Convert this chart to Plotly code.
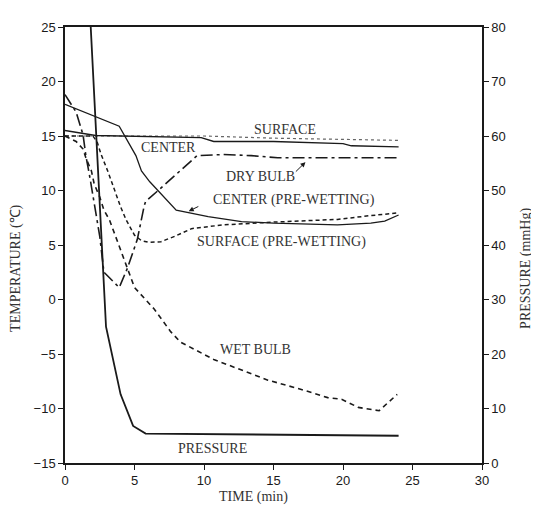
import plotly.graph_objects as go

# ---- data (time in min, temperature in degC, pressure in mmHg) ----
press_t = [1.85, 2.95, 4.0, 4.9, 5.8, 24.0]
press_p = [80.0, 25.0, 12.6, 6.8, 5.4, 5.0]

center_t = [0, 2.2, 9.8, 10.7, 15, 20, 20.6, 24]
center_v = [15.5, 15.05, 14.85, 14.5, 14.5, 14.3, 14.1, 14.0]

surface_t = [0, 10, 15, 20, 24]
surface_v = [15.0, 15.0, 14.8, 14.7, 14.6]

dry_t = [0, 0.8, 1.3, 1.5, 1.75, 2.0, 2.5, 2.8, 3.9, 4.5, 5.2, 5.7, 5.8, 6.7, 7.9, 9.5, 11.4, 13.4, 15.3, 24]
dry_v = [18.8, 17.2, 15.1, 13.2, 11.5, 9.7, 5.8, 2.5, 1.1, 2.9, 5.5, 8.6, 9.0, 10.0, 11.4, 13.2, 13.3, 13.2, 13.0, 13.0]

cpw_t = [0, 2.0, 3.9, 5.1, 5.5, 6.1, 6.7, 8.0, 10.3, 12.7, 15.0, 19.6, 22, 23, 24]
cpw_v = [17.9, 16.9, 15.9, 13.2, 11.8, 10.8, 10.0, 8.2, 7.6, 7.15, 7.0, 6.85, 7.0, 7.2, 7.75]

spw_t = [0, 2.0, 2.3, 2.6, 3.1, 3.5, 4.0, 4.4, 5.0, 5.5, 6.0, 6.9, 7.9, 9.1, 11.4, 15, 17.2, 19.6, 22, 24]
spw_v = [15.0, 15.0, 14.5, 13.3, 11.7, 10.2, 8.5, 7.3, 5.9, 5.4, 5.25, 5.3, 5.8, 6.5, 6.85, 7.1, 7.25, 7.35, 7.7, 7.95]

wet_t = [0, 0.8, 1.3, 1.5, 1.9, 2.1, 2.5, 2.8, 3.2, 4.5, 5.0, 6.4, 7.6, 8.3, 10.7, 14.6, 17, 18.9, 19.9, 21.1, 22.6, 23.9]
wet_v = [15.0, 14.5, 13.8, 13.0, 11.8, 10.6, 9.4, 8.2, 7.3, 2.7, 1.1, -0.85, -2.95, -3.9, -5.5, -7.4, -8.25, -9.0, -9.15, -9.9, -10.2, -8.7]

x_ticks = [0, 5, 10, 15, 20, 25, 30]
y_ticks = [-15, -10, -5, 0, 5, 10, 15, 20, 25]
y2_ticks = [0, 10, 20, 30, 40, 50, 60, 70, 80]

labels = ["SURFACE", "CENTER", "DRY BULB", "CENTER (PRE-WETTING)",
          "SURFACE (PRE-WETTING)", "WET BULB", "PRESSURE"]
label_x = [15.8, 7.45, 14.1, 16.5, 15.6, 13.7, 10.6]
label_y = [15.6, 13.9, 11.25, 9.1, 5.3, -4.6, -13.7]

INK = "#1a1a1a"
fig = go.Figure()

fig.add_trace(go.Scatter(x=surface_t, y=surface_v, mode="lines",
                         line=dict(color="#666", width=1.2, dash="dot")))
fig.add_trace(go.Scatter(x=center_t, y=center_v, mode="lines",
                         line=dict(color=INK, width=1.4)))
fig.add_trace(go.Scatter(x=dry_t, y=dry_v, mode="lines",
                         line=dict(color=INK, width=1.6, dash="12px,4px,3px,4px")))
fig.add_trace(go.Scatter(x=cpw_t, y=cpw_v, mode="lines",
                         line=dict(color=INK, width=1.3)))
fig.add_trace(go.Scatter(x=spw_t, y=spw_v, mode="lines",
                         line=dict(color=INK, width=1.5, dash="4px,3px")))
fig.add_trace(go.Scatter(x=wet_t, y=wet_v, mode="lines",
                         line=dict(color=INK, width=1.6, dash="5px,4px")))
fig.add_trace(go.Scatter(x=press_t, y=press_p, mode="lines", yaxis="y2",
                         line=dict(color=INK, width=1.8)))

serif = "Liberation Serif"
for txt, lx, ly in zip(labels, label_x, label_y):
    fig.add_annotation(x=lx, y=ly, text=txt, showarrow=False,
                       xanchor="center", yanchor="middle",
                       font=dict(family=serif, size=14, color="#333"))

# arrows
fig.add_annotation(x=17.3, y=12.6, ax=16.5, ay=11.6, xref="x", yref="y",
                   axref="x", ayref="y", text="", showarrow=True,
                   arrowhead=2, arrowsize=1, arrowwidth=1, arrowcolor=INK)
fig.add_annotation(x=8.9, y=8.1, ax=9.7, ay=8.6, xref="x", yref="y",
                   axref="x", ayref="y", text="", showarrow=True,
                   arrowhead=2, arrowsize=1, arrowwidth=1, arrowcolor=INK)

# axis titles
fig.add_annotation(x=-0.118, y=0.447, xref="paper", yref="paper",
                   xanchor="center", yanchor="middle",
                   text="TEMPERATURE (\u2103)", textangle=-90, showarrow=False,
                   font=dict(family=serif, size=14, color="#333"))
fig.add_annotation(x=1.105, y=0.447, xref="paper", yref="paper",
                   xanchor="center", yanchor="middle",
                   text="PRESSURE (mmHg)", textangle=-90, showarrow=False,
                   font=dict(family=serif, size=14, color="#333"))
fig.add_annotation(x=0.451, y=-0.077, xref="paper", yref="paper",
                   xanchor="center", yanchor="middle",
                   text="TIME (min)", showarrow=False,
                   font=dict(family=serif, size=14, color="#333"))

tickfont = dict(family="Liberation Sans", size=13, color=INK)
fig.update_layout(
    width=532, height=500,
    margin=dict(l=57, r=58, t=14, b=45),
    paper_bgcolor="white", plot_bgcolor="white",
    showlegend=False,
    xaxis=dict(range=[0, 30], tickvals=x_ticks, ticks="outside", ticklen=5,
               showline=True, linecolor=INK, linewidth=1.5, mirror=True,
               showgrid=False, zeroline=False, tickfont=tickfont, tickcolor=INK),
    yaxis=dict(range=[-15, 25], tickvals=y_ticks, ticks="outside", ticklen=5,
               showline=True, linecolor=INK, linewidth=1.5,
               showgrid=False, zeroline=False, tickfont=tickfont, tickcolor=INK),
    yaxis2=dict(range=[0, 80], tickvals=y2_ticks, ticks="outside", ticklen=5,
                overlaying="y", side="right",
                showline=True, linecolor=INK, linewidth=1.5,
                showgrid=False, zeroline=False, tickfont=tickfont, tickcolor=INK),
)

fig.write_html("out.html")
